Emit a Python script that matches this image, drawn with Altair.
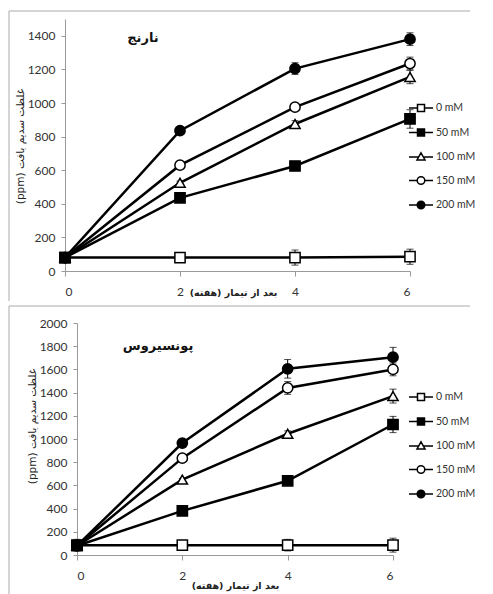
import altair as alt
import pandas as pd

weeks = [0, 2, 4, 6]
series_names = ["0 mM", "50 mM", "100 mM", "150 mM", "200 mM"]
shapes = ["square", "square", "triangle-up", "circle", "circle"]
fills = ["white", "black", "white", "white", "black"]

# panel 1: نارنج
top_title = "نارنج"
top_values = [
    [80, 80, 80, 85],
    [80, 435, 625, 905],
    [80, 525, 875, 1155],
    [80, 630, 975, 1235],
    [80, 835, 1205, 1380],
]
top_errors = [
    [10, 15, 45, 45],
    [10, 10, 15, 55],
    [10, 10, 20, 40],
    [10, 10, 15, 38],
    [10, 10, 35, 38],
]
top_ticks = [0, 200, 400, 600, 800, 1000, 1200, 1400]

# panel 2: پونسیروس
bot_title = "پونسیروس"
bot_values = [
    [85, 85, 85, 85],
    [80, 380, 640, 1125],
    [80, 650, 1045, 1370],
    [80, 835, 1440, 1600],
    [80, 965, 1605, 1705],
]
bot_errors = [
    [50, 40, 50, 60],
    [10, 10, 10, 70],
    [10, 10, 25, 60],
    [10, 15, 55, 55],
    [10, 20, 80, 85],
]
bot_ticks = [0, 200, 400, 600, 800, 1000, 1200, 1400, 1600, 1800, 2000]

y_title = "\u202bغلظت سدیم بافت (ppm)\u202c"
x_title = "\u202bبعد از تیمار (هفته)\u202c"

legend_paths = [
    "M-1.2,0H-0.35M0.35,0H1.2M-0.35,-0.35H0.35V0.35H-0.35Z",
    "M-1.2,0H-0.35M0.35,0H1.2M-0.35,-0.35H0.35V0.35H-0.35Z",
    "M-1.2,0H-0.25M0.25,0H1.2M0,-0.42L0.4,0.3H-0.4Z",
    "M-1.2,0H-0.38M0.38,0H1.2M0.38,0A0.38,0.38,0,1,1,-0.38,0A0.38,0.38,0,1,1,0.38,0Z",
    "M-1.2,0H-0.38M0.38,0H1.2M0.38,0A0.38,0.38,0,1,1,-0.38,0A0.38,0.38,0,1,1,0.38,0Z",
]

NUM_FONT = "Lato"
FA_FONT = "DejaVu Sans"


def long_df(values, errors):
    rows = []
    for name, vals, errs in zip(series_names, values, errors):
        for w, v, e in zip(weeks, vals, errs):
            rows.append({"week": w, "value": v, "series": name,
                         "lo": v - e, "hi": v + e})
    return pd.DataFrame(rows)


def panel(values, errors, title, ticks, w, h, ymax, xrange, yoffset, frame,
          title_pos, ytitle_pos, xtitle_pos, legend_pos):
    df = long_df(values, errors)
    base = alt.Chart(df)
    xscale = alt.Scale(domain=[0, 6], nice=False, range=xrange)
    yscale = alt.Scale(domain=[0, ymax], nice=False)
    x_axis = alt.Axis(values=weeks, format="d", grid=False, title=x_title,
                      titleX=xtitle_pos[0], titleY=xtitle_pos[1],
                      titleAngle=0, titleAlign="center",
                      titleBaseline="middle", titleFont=FA_FONT,
                      titleFontSize=9.5, titleFontWeight="bold",
                      titleColor="#222", labelOverlap=False,
                      labelFont=NUM_FONT, labelFontSize=12,
                      labelColor="#333", labelPadding=10, tickSize=5,
                      domainColor="#999", tickColor="#999")
    y_axis = alt.Axis(values=ticks, format="d", grid=False, title=y_title,
                      titleX=ytitle_pos[0], titleY=ytitle_pos[1],
                      titleAngle=270, titleAlign="center",
                      titleBaseline="middle", titleFont=FA_FONT,
                      titleFontSize=10.5, titleFontWeight="normal",
                      titleColor="#222", labelOverlap=False,
                      labelFont=NUM_FONT, labelFontSize=12,
                      labelColor="#333", labelPadding=6, tickSize=4,
                      offset=yoffset,
                      domainColor="#999", tickColor="#999")
    xq = alt.X("week:Q", scale=xscale, axis=x_axis)

    def yq(field):
        return alt.Y(field, scale=yscale, axis=y_axis)

    fx0, fy0, fx1, fy1 = frame
    one = alt.Chart(pd.DataFrame({"a": [0]}))
    frame_top = one.mark_rule(color="#aaa", strokeWidth=1).encode(
        x=alt.value(fx0), x2=alt.value(fx1), y=alt.value(fy0), y2=alt.value(fy0))
    frame_left = one.mark_rule(color="#aaa", strokeWidth=1).encode(
        x=alt.value(fx0), y=alt.value(fy0), y2=alt.value(fy1))

    lines = base.mark_line(color="black", strokeWidth=2.5).encode(
        x=xq, y=yq("value:Q"), detail="series:N")
    err_rule = base.mark_rule(color="black", strokeWidth=1).encode(
        x=xq, y=yq("lo:Q"), y2="hi:Q")
    cap_hi = base.mark_tick(orient="horizontal", size=7, thickness=1,
                            color="black").encode(x=xq, y=yq("hi:Q"))
    cap_lo = base.mark_tick(orient="horizontal", size=7, thickness=1,
                            color="black").encode(x=xq, y=yq("lo:Q"))

    point_layers = []
    for name, shp, fl in zip(series_names, shapes, fills):
        point_layers.append(
            base.transform_filter(alt.datum.series == name).mark_point(
                shape=shp, filled=True, fill=fl, stroke="black",
                strokeWidth=1.5, size=105, opacity=1).encode(
                x=xq, y=yq("value:Q")))

    leg = alt.Legend(title=None, orient="none", legendX=legend_pos[0],
                     legendY=legend_pos[1], symbolSize=400, padding=0,
                     symbolStrokeWidth=1.5, symbolOpacity=1,
                     labelFont=NUM_FONT, labelFontSize=10.5, labelColor="#333",
                     labelOffset=4, rowPadding=6.5)
    legend_layer = base.transform_filter("false").mark_point(
        filled=True).encode(
        x=xq, y=yq("value:Q"),
        shape=alt.Shape("series:N", sort=series_names,
                        scale=alt.Scale(domain=series_names, range=legend_paths),
                        legend=leg),
        fill=alt.Fill("series:N", sort=series_names,
                      scale=alt.Scale(domain=series_names, range=fills),
                      legend=leg),
        stroke=alt.Stroke("series:N", sort=series_names,
                          scale=alt.Scale(domain=series_names,
                                          range=["black"] * 5),
                          legend=leg))

    title_layer = alt.Chart(pd.DataFrame({"t": [title]})).mark_text(
        font=FA_FONT, fontSize=13, fontWeight="bold", color="#111",
        align="center", baseline="middle").encode(
        text="t:N", x=alt.value(title_pos[0]), y=alt.value(title_pos[1]))

    return alt.layer(frame_top, frame_left, lines, err_rule, cap_hi, cap_lo,
                     *point_layers, legend_layer, title_layer).properties(
        width=w, height=h)


top = panel(top_values, top_errors, top_title, top_ticks, 345, 252, 1500,
            xrange=[0, 345], yoffset=0,
            frame=(-56, -8, 405, 282), title_pos=(78, 19),
            ytitle_pos=(-45, 127), xtitle_pos=(168, 21),
            legend_pos=(345, 78))
bot = panel(bot_values, bot_errors, bot_title, bot_ticks, 328, 232, 2000,
            xrange=[12, 328], yoffset=-12,
            frame=(-56, -17, 405, 280), title_pos=(93, 23),
            ytitle_pos=(-45, 103), xtitle_pos=(170, 30),
            legend_pos=(345, 63))

chart = alt.vconcat(top, bot, spacing=3).resolve_scale(
    shape="independent", fill="independent", stroke="independent").properties(
    padding={"left": 0, "top": 2, "right": 0, "bottom": 0},
    background="white").configure_view(stroke=None)

chart.save("out.html", embed_options={"renderer": "svg", "actions": False})
